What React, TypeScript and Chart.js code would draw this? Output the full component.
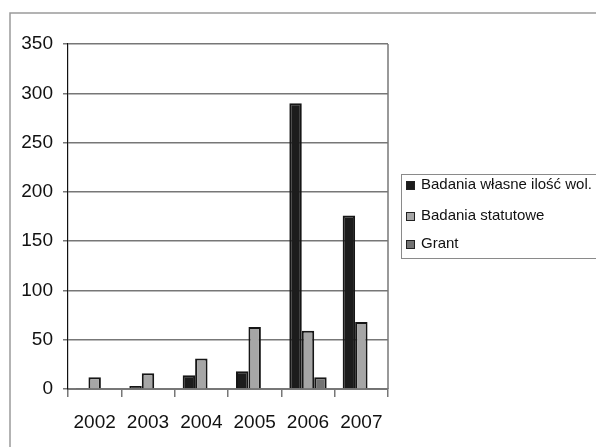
import React, { useEffect, useRef } from "react";
import { Chart, registerables } from "chart.js";

Chart.register(...registerables);

const years = ["2002", "2003", "2004", "2005", "2006", "2007"];
const seriesNames = ["Badania własne ilość wol.", "Badania statutowe", "Grant"];
const badaniaWlasne = [1, 3, 14, 18, 290, 176];
const badaniaStatutowe = [12, 16, 31, 63, 59, 68];
const grant = [0, 0, 0, 0, 12, 1];
const seriesColors = ["#1c1c1c", "#a6a6a6", "#737373"];

const framePlugin = {
  id: "frame",
  beforeDraw(chart: any) {
    const ctx = chart.ctx;
    ctx.save();
    ctx.strokeStyle = "#9a9a9a";
    ctx.lineWidth = 1.5;
    ctx.beginPath();
    ctx.moveTo(10, chart.height);
    ctx.lineTo(10, 13);
    ctx.lineTo(chart.width, 13);
    ctx.stroke();
    ctx.restore();
  },
  afterDraw(chart: any) {
    const ctx = chart.ctx;
    const a = chart.chartArea;
    ctx.save();
    // plot right border
    ctx.strokeStyle = "#777";
    ctx.lineWidth = 1.5;
    ctx.beginPath();
    ctx.moveTo(a.right, a.top);
    ctx.lineTo(a.right, a.bottom);
    ctx.stroke();
    // legend
    const bx = a.right + 13;
    const by = 174;
    const bh = 84;
    ctx.lineWidth = 1;
    ctx.strokeStyle = "#8a8a8a";
    ctx.strokeRect(bx + 0.5, by + 0.5, chart.width - bx + 5, bh);
    const rows = [185, 216, 244];
    ctx.font = "15px 'Liberation Sans', Arial, sans-serif";
    ctx.textBaseline = "middle";
    ctx.textAlign = "left";
    chart.data.datasets.forEach((ds: any, i: number) => {
      const cy = rows[i];
      ctx.fillStyle = ds.backgroundColor;
      ctx.fillRect(bx + 5, cy - 4, 8, 8);
      ctx.strokeStyle = "#222";
      ctx.lineWidth = 1;
      ctx.strokeRect(bx + 5.5, cy - 3.5, 8, 8);
      ctx.fillStyle = "#111";
      ctx.fillText(ds.label, bx + 20, cy);
    });
    ctx.restore();
  },
};

export default function App() {
  const ref = useRef<HTMLCanvasElement>(null);
  useEffect(() => {
    if (!ref.current) return;
    const values = [badaniaWlasne, badaniaStatutowe, grant];
    const chart = new Chart(ref.current, {
      type: "bar",
      data: {
        labels: years,
        datasets: seriesNames.map((name, i) => ({
          label: name,
          data: values[i],
          backgroundColor: seriesColors[i],
          borderColor: "#161616",
          borderWidth: 2,
          categoryPercentage: 0.7,
          barPercentage: 1,
        })),
      },
      options: {
        animation: false,
        responsive: false,
        devicePixelRatio: 1,
        layout: { padding: { left: 0, right: 208, top: 44, bottom: 0 } },
        plugins: { legend: { display: false }, tooltip: { enabled: false } },
        scales: {
          x: {
            afterFit: (s: any) => {
              s.height = 58;
            },
            grid: {
              offset: true,
              drawOnChartArea: false,
              drawTicks: true,
              tickLength: 8,
              color: "#777",
              lineWidth: 1.5,
            },
            border: { color: "#777", width: 2 },
            ticks: {
              color: "#111",
              padding: 14,
              font: { family: "'Liberation Sans', Arial, sans-serif", size: 19 },
            },
          },
          y: {
            min: 0,
            max: 350,
            afterFit: (s: any) => {
              s.width = 68;
            },
            grid: { color: "#777", tickLength: 5, lineWidth: 1.5 },
            border: { color: "#111", width: 1.2 },
            ticks: {
              stepSize: 50,
              color: "#111",
              padding: 10,
              font: { family: "'Liberation Sans', Arial, sans-serif", size: 19 },
            },
          },
        },
      },
      plugins: [framePlugin],
    });
    return () => chart.destroy();
  }, []);
  return (
    <div style={{ position: "absolute", left: 0, top: 0, width: 596, height: 447, background: "#fff" }}>
      <canvas ref={ref} width={596} height={447} style={{ width: 596, height: 447, display: "block" }} />
    </div>
  );
}
